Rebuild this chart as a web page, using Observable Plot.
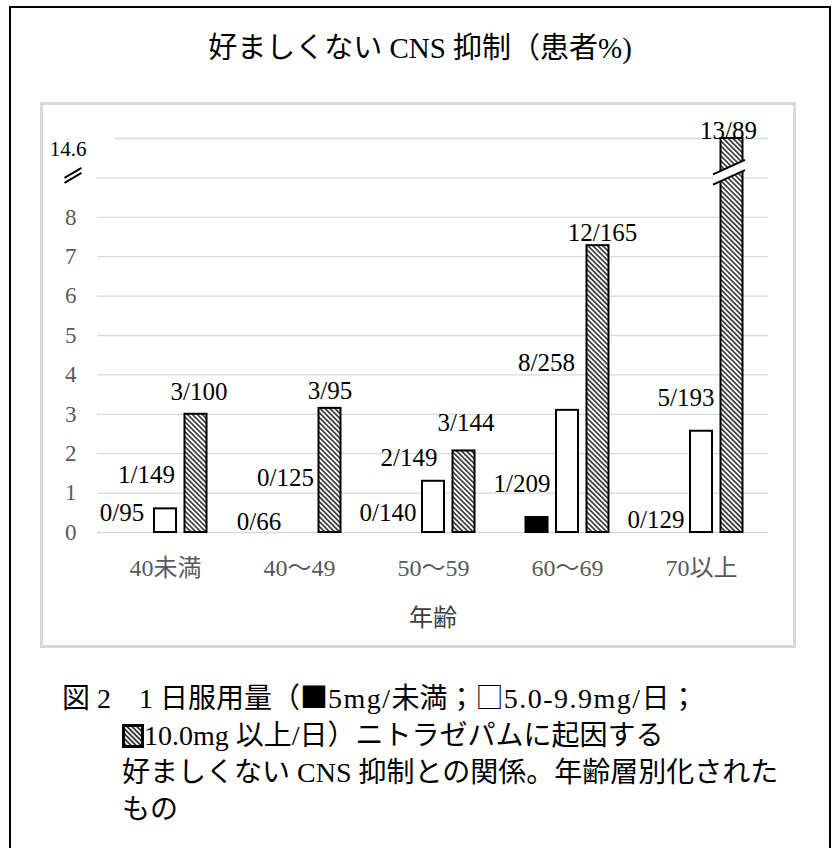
<!DOCTYPE html>
<html><head><meta charset="utf-8">
<script src="https://cdn.jsdelivr.net/npm/d3@7"></script>
<script src="https://cdn.jsdelivr.net/npm/@observablehq/plot@0.6"></script>
<style>
body{margin:0;background:#fff;}
#page{position:relative;width:832px;height:848px;overflow:hidden;font-family:"Liberation Serif","Noto Sans CJK JP",serif;color:#000;}
#frame{position:absolute;left:9px;top:6px;width:818px;height:900px;border:2px solid #000;}
#title{position:absolute;left:11px;width:818px;top:30px;text-align:center;font-size:29px;line-height:36px;}
#box{position:absolute;left:40px;top:102px;width:750px;height:540px;border:3px solid #d9d9d9;}
#box svg{position:absolute;left:0;top:0;}
#caption{position:absolute;left:62px;top:678px;font-size:28px;line-height:37px;white-space:nowrap;}
#caption .ind{padding-left:60px;}
#caption .lat{letter-spacing:1.5px;}
.cjk{font-family:"Noto Sans CJK JP";}
.icon{display:inline-block;vertical-align:-3px;}
</style></head>
<body>
<div id="page">
  <div id="frame"></div>
  <div id="title">好ましくない CNS 抑制（患者%)</div>
  <div id="box"></div>
  <div id="caption">
    <div>図 2　1 日服用量（<span class="cjk">■</span><span class="lat">5mg/</span>未満；<span class="cjk">□</span><span class="lat">5.0-9.9mg/</span>日；</div>
    <div class="ind"><svg class="icon" width="22" height="24"><defs><pattern id="hatchIcon" patternUnits="userSpaceOnUse" width="3.5" height="3.5" patternTransform="rotate(-45)"><rect width="3.5" height="3.5" fill="#fff"/><line x1="1.75" y1="0" x2="1.75" y2="3.5" stroke="#000" stroke-width="1.4"/></pattern></defs><rect x="1.5" y="1.5" width="19" height="21" fill="url(#hatchIcon)" stroke="#000" stroke-width="3"/></svg>10.0mg 以上/日）ニトラゼパムに起因する</div>
    <div class="ind">好ましくない CNS 抑制との関係。年齢層別化された</div>
    <div class="ind">もの</div>
  </div>
</div>
<script>
// ---- data ----
const ageGroups = ["40未満", "40～49", "50～59", "60～69", "70以上"];
const lowDosePct  = [0, 0, 0, 0.38, 0];          // ■ 5mg未満
const midDosePct  = [0.6, 0, 1.3, 3.1, 2.57];     // □ 5.0-9.9mg/日
const highDosePct = [3.0, 3.15, 2.07, 7.28, 14.6]; // ▧ 10.0mg以上/日
const lowDoseCounts  = ["0/95", "0/66", "0/140", "1/209", "0/129"];
const midDoseCounts  = ["1/149", "0/125", "2/149", "8/258", "5/193"];
const highDoseCounts = ["3/100", "3/95", "3/144", "12/165", "13/89"];
const yTickValues = [0, 1, 2, 3, 4, 5, 6, 7, 8];
const brokenTopLabel = "14.6";
const axisTop = 10; // top of the (broken) axis

// ---- layout / style ----
const seriesStyle = {
  low:  {fill: "#000", dx: -30.5},
  mid:  {fill: "#fff", dx: 0},
  high: {fill: "url(#hatch)", dx: 30.5}
};
const labelNudge = {
  low:  [[-13, -20], [-10, -11], [-15, -20], [-15, -34], [-15, -13]],
  mid:  [[-19, -34], [-14, -55], [-24.5, -23], [-21, -47], [-15.5, -33]],
  high: [[3, -22], [0, -17], [2, -28], [4.5, -13], [-3.5, -8]]
};
const series = [
  {key: "low", values: lowDosePct, labels: lowDoseCounts},
  {key: "mid", values: midDosePct, labels: midDoseCounts},
  {key: "high", values: highDosePct, labels: highDoseCounts}
];
const shown = v => Math.min(v, axisTop);

const marks = [];
marks.push(Plot.ruleY(d3.range(0, axisTop), {stroke: "#d9d9d9", strokeWidth: 1.3}));
marks.push(Plot.ruleY([axisTop], {stroke: "#d9d9d9", strokeWidth: 1.3, insetLeft: 18}));
for (const s of series) {
  const rows = ageGroups.map((a, i) => ({age: a, v: s.values[i], label: s.labels[i], i}));
  const st = seriesStyle[s.key];
  marks.push(Plot.barY(rows.filter(d => d.v > 0), {
    x: "age", y1: 0, y2: d => shown(d.v), fill: st.fill, stroke: "#000", strokeWidth: 2,
    dx: st.dx, insetLeft: 56, insetRight: 56
  }));
  for (const d of rows) {
    const [ndx, ndy] = labelNudge[s.key][d.i];
    marks.push(Plot.text([d], {
      x: "age", y: e => shown(e.v), text: "label", dx: st.dx + ndx, dy: ndy,
      fontSize: 25, fill: "#000", textAnchor: "middle", lineAnchor: "middle"
    }));
  }
}
marks.push(Plot.axisY(yTickValues, {tickSize: 0, tickPadding: 21, fontSize: 23, fill: "#595959", label: null}));
marks.push(Plot.axisX({tickSize: 0, tickPadding: 26, fontSize: 24, fill: "#595959", label: null}));
marks.push(Plot.text([brokenTopLabel], {y: [9.72], frameAnchor: "left", textAnchor: "end", dx: -11, fontSize: 21, fill: "#000"}));
marks.push(Plot.text(["年齢"], {frameAnchor: "bottom", dy: 86, fontSize: 24, fill: "#404040", lineAnchor: "middle"}));

const chart = Plot.plot({
  width: 750, height: 540,
  marginLeft: 54, marginRight: 25, marginTop: 33, marginBottom: 113,
  x: {domain: ageGroups, padding: 0},
  y: {domain: [0, axisTop]},
  style: {fontFamily: '"Liberation Serif","Noto Sans CJK JP",serif', background: "transparent", overflow: "visible"},
  marks
});

const svg = d3.select(chart);
svg.insert("defs", ":first-child").html(
  '<pattern id="hatch" patternUnits="userSpaceOnUse" width="3.5" height="3.5" patternTransform="rotate(-45)">' +
  '<rect width="3.5" height="3.5" fill="#fff"/><line x1="1.75" y1="0" x2="1.75" y2="3.5" stroke="#000" stroke-width="1.3"/></pattern>');

const xs = chart.scale("x"), ys = chart.scale("y");
const g = svg.append("g");

// axis-break mark across the clipped 70以上 bar
const hc = xs.apply(ageGroups[4]) + xs.bandwidth / 2 + seriesStyle.high.dx;
const slope = -0.45, xl = hc - 18.5, xr = hc + 13.5;
const yUp = ys.apply(9.29), yLo = ys.apply(9.03);
const yAt = (y0, x) => y0 + (x - hc) * slope;
g.append("polygon")
  .attr("points", [[xl, yAt(yUp, xl)], [xr, yAt(yUp, xr)], [xr, yAt(yLo, xr)], [xl, yAt(yLo, xl)]].map(p => p.join(",")).join(" "))
  .attr("fill", "#fff");
for (const y0 of [yUp, yLo]) {
  g.append("line").attr("x1", xl).attr("y1", yAt(y0, xl)).attr("x2", xr).attr("y2", yAt(y0, xr))
    .attr("stroke", "#000").attr("stroke-width", 2);
}

// "//" break symbol on the y axis at the 9 gridline
const ax = xs.range ? xs.range[0] - 24 : 30;
const ay = ys.apply(9) - 2;
for (const off of [-2.5, 2.5]) {
  g.append("line")
    .attr("x1", ax - 8.5).attr("y1", ay + off + 5).attr("x2", ax + 8.5).attr("y2", ay + off - 5)
    .attr("stroke", "#000").attr("stroke-width", 1.8);
}
document.getElementById("box").appendChild(chart);
</script>
</body></html>
